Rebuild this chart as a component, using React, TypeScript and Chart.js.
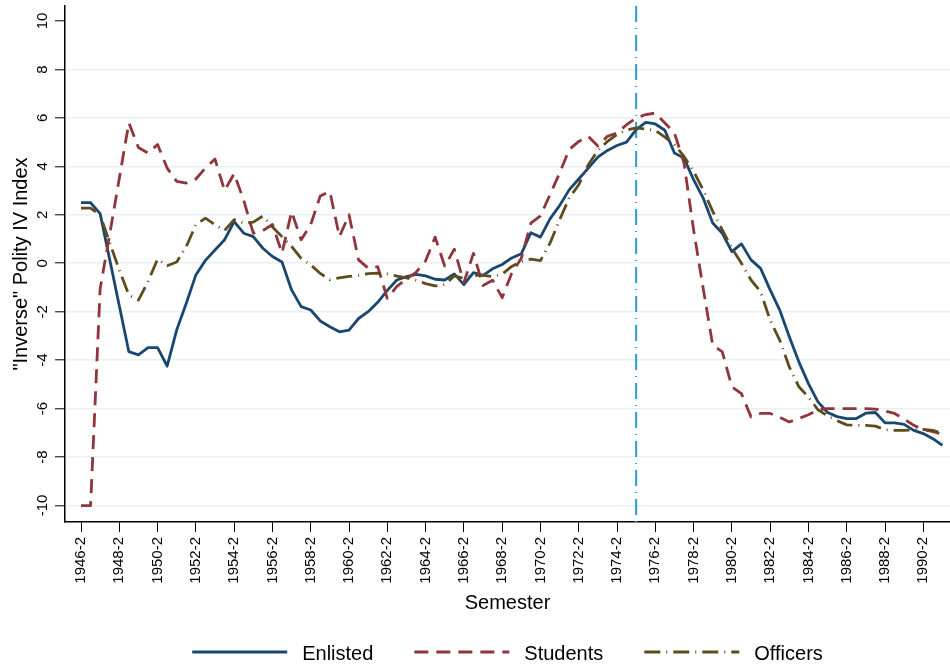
import React, { useEffect, useRef } from "react";
import { Chart, registerables } from "chart.js";

Chart.register(...registerables);

const FONT = '"Liberation Sans", Arial, Helvetica, sans-serif';

// Semesters 1946-2 ... 1991-2
const semesters: string[] = [];
for (let year = 1946; year <= 1991; year++) {
  if (year > 1946) semesters.push(`${year}-1`);
  semesters.push(`${year}-2`);
}

// Every fourth semester gets a tick label
const xTickIndices: number[] = semesters.map((_, i) => i).filter((i) => i % 4 === 0);
const yTicks: number[] = [-10, -8, -6, -4, -2, 0, 2, 4, 6, 8, 10];

// Semester marked by the vertical reference line
const eventSemester = "1975-2";

const enlisted: number[] = [
  2.5, 2.5, 2.05, 0.15, -1.75, -3.65, -3.78, -3.48, -3.48, -4.25,
  -2.75, -1.65, -0.48, 0.12, 0.55, 0.97, 1.72, 1.24, 1.1, 0.62,
  0.28, 0.05, -1.1, -1.79, -1.93, -2.38, -2.62, -2.83, -2.76, -2.28,
  -2.0, -1.61, -1.12, -0.69, -0.55, -0.46, -0.52, -0.66, -0.69, -0.44,
  -0.88, -0.39, -0.5, -0.23, -0.05, 0.22, 0.39, 1.26, 1.08, 1.83,
  2.38, 3.03, 3.48, 3.93, 4.38, 4.66, 4.86, 5.0, 5.52, 5.82,
  5.75, 5.49, 4.55, 4.34, 3.45, 2.69, 1.66, 1.24, 0.48, 0.8,
  0.14, -0.21, -1.1, -1.93, -3.03, -4.07, -4.97, -5.72, -6.16, -6.33,
  -6.41, -6.41, -6.19, -6.16, -6.59, -6.59, -6.65, -6.9, -7.03, -7.24,
  -7.52,
];

const students: number[] = [
  -10, -10, -1.05, 1.2, 3.5, 5.8, 4.78, 4.55, 4.9, 3.93,
  3.38, 3.31, 3.48, 3.93, 4.3, 3.0, 3.7, 2.6, 1.24, 1.35,
  1.6, 0.42, 2.13, 0.97, 1.6, 2.78, 2.96, 1.1, 2.0, 0.14,
  -0.2, -0.14, -1.45, -0.95, -0.65, -0.38, 0.1, 1.08, -0.12, 0.58,
  -0.8, 0.41, -0.92, -0.7, -1.42, -0.41, 0.21, 1.66, 1.96, 2.83,
  3.72, 4.69, 5.03, 5.24, 4.84, 5.24, 5.38, 5.72, 6.0, 6.14,
  6.2, 5.79, 5.38, 4.14, 1.38, -1.03, -3.38, -3.66, -5.1, -5.38,
  -6.34, -6.2, -6.2, -6.36, -6.55, -6.41, -6.25, -6.05, -6.0, -6.0,
  -6.0, -6.0, -6.0, -6.02, -6.1, -6.2, -6.43, -6.69, -6.87, -6.95,
  -7.06,
];

const officers: number[] = [
  2.28, 2.28, 2.0, 0.85, -0.28, -1.31, -1.52, -0.76, 0.17, -0.1,
  0.05, 0.69, 1.59, 1.86, 1.59, 1.35, 1.8, 1.66, 1.7, 1.95,
  1.5, 1.1, 0.7, 0.2, -0.07, -0.42, -0.68, -0.6, -0.54, -0.5,
  -0.43, -0.41, -0.44, -0.53, -0.6, -0.7, -0.84, -0.93, -0.88, -0.52,
  -0.62, -0.5, -0.5, -0.55, -0.45, -0.13, 0.07, 0.17, 0.11, 0.83,
  1.79, 2.69, 3.24, 4.07, 4.65, 5.03, 5.31, 5.5, 5.59, 5.54,
  5.49, 5.21, 4.9, 4.41, 3.79, 3.03, 2.14, 1.38, 0.62, 0.0,
  -0.69, -1.17, -2.35, -3.17, -4.28, -5.1, -5.52, -6.05, -6.3, -6.5,
  -6.67, -6.69, -6.69, -6.72, -6.87, -6.9, -6.9, -6.88, -6.86, -6.9,
  -7.02,
];

const seriesLabels = ["Enlisted", "Students", "Officers"];
const seriesValues = [enlisted, students, officers];
const seriesColors = ["#1a476f", "#90353b", "#5e4c1c"];
const seriesDashes: number[][] = [[], [14, 8], [16, 6, 1, 6]];

const refLineColor = "#2b9bd0";

const overlayPlugin = {
  id: "overlay",
  beforeDatasetsDraw(chart: any) {
    const { ctx, chartArea, scales } = chart;
    const x = scales.x.getPixelForValue(semesters.indexOf(eventSemester));
    ctx.save();
    ctx.strokeStyle = refLineColor;
    ctx.lineWidth = 2;
    ctx.setLineDash([16, 6, 1, 6]);
    ctx.beginPath();
    ctx.moveTo(x, chartArea.top);
    ctx.lineTo(x, chartArea.bottom);
    ctx.stroke();
    ctx.restore();
  },
  afterDraw(chart: any) {
    const { ctx, chartArea, scales } = chart;
    ctx.save();
    ctx.fillStyle = "#000";

    // y tick labels, rotated
    ctx.font = `15px ${FONT}`;
    ctx.textAlign = "center";
    ctx.textBaseline = "alphabetic";
    yTicks.forEach((v) => {
      const py = scales.y.getPixelForValue(v);
      ctx.save();
      ctx.translate(47, py);
      ctx.rotate(-Math.PI / 2);
      ctx.fillText(String(v), 0, 0);
      ctx.restore();
    });

    // y axis title
    ctx.font = `20px ${FONT}`;
    ctx.save();
    ctx.translate(27, (chartArea.top + chartArea.bottom) / 2);
    ctx.rotate(-Math.PI / 2);
    ctx.fillText('"Inverse" Polity IV Index', 0, 0);
    ctx.restore();

    // legend row
    const lineLen = 95;
    const textGap = 15;
    const itemGap = 41;
    const ly = 652;
    const datasets = chart.data.datasets;
    const widths = datasets.map((d: any) => ctx.measureText(d.label).width);
    const total =
      widths.reduce((s: number, w: number) => s + lineLen + textGap + w, 0) +
      itemGap * (datasets.length - 1);
    let x = (chartArea.left + chartArea.right) / 2 - total / 2;
    ctx.textAlign = "left";
    datasets.forEach((d: any, i: number) => {
      ctx.save();
      ctx.strokeStyle = d.borderColor;
      ctx.lineWidth = d.borderWidth;
      ctx.setLineDash(d.borderDash || []);
      ctx.beginPath();
      ctx.moveTo(x, ly);
      ctx.lineTo(x + lineLen, ly);
      ctx.stroke();
      ctx.restore();
      ctx.fillText(d.label, x + lineLen + textGap, ly + 7.5);
      x += lineLen + textGap + widths[i] + itemGap;
    });
    ctx.restore();
  },
};

export default function App() {
  const canvasRef = useRef<HTMLCanvasElement | null>(null);

  useEffect(() => {
    const canvas = canvasRef.current;
    if (!canvas) return;

    const datasets = seriesLabels.map((label, s) => ({
      label,
      data: seriesValues[s].map((v, i) => ({ x: i, y: v })),
      borderColor: seriesColors[s],
      backgroundColor: seriesColors[s],
      borderWidth: 2.8,
      borderDash: seriesDashes[s],
      borderJoinStyle: "round" as const,
      pointRadius: 0,
      tension: 0,
      fill: false,
      order: seriesLabels.length - s,
    }));

    const chart = new Chart(canvas, {
      type: "line",
      data: { datasets },
      plugins: [overlayPlugin],
      options: {
        responsive: false,
        animation: false,
        events: [],
        layout: { padding: { top: 6, right: 0, bottom: 49, left: 0 } },
        plugins: {
          legend: { display: false },
          tooltip: { enabled: false },
        },
        scales: {
          x: {
            type: "linear",
            min: -1.672,
            max: 90.79,
            afterBuildTicks: (scale: any) => {
              scale.ticks = xTickIndices.map((v) => ({ value: v }));
            },
            afterFit: (scale: any) => {
              scale.height = 97;
            },
            grid: {
              drawOnChartArea: false,
              drawTicks: true,
              tickLength: 10,
              tickColor: "#000",
              tickWidth: 1,
            },
            border: { display: true, color: "#000", width: 1.5 },
            ticks: {
              autoSkip: false,
              minRotation: 90,
              maxRotation: 90,
              padding: 5,
              color: "#000",
              font: { family: FONT, size: 15 },
              callback: (v: any) => semesters[v as number],
            },
            title: {
              display: true,
              text: "Semester",
              color: "#000",
              font: { family: FONT, size: 20 },
              padding: { top: 0, bottom: 4 },
            },
          },
          y: {
            type: "linear",
            min: -10.68,
            max: 10.62,
            afterBuildTicks: (scale: any) => {
              scale.ticks = yTicks.map((v) => ({ value: v }));
            },
            afterFit: (scale: any) => {
              scale.width = 65;
            },
            grid: {
              color: (c: any) =>
                c.tick && c.tick.value === 10 ? "rgba(0,0,0,0)" : "#e8f0f2",
              lineWidth: 1.6,
              drawTicks: true,
              tickLength: 10,
              tickColor: "#000",
              tickWidth: 1,
            },
            border: { display: true, color: "#000", width: 1.5 },
            ticks: { display: false },
          },
        },
      },
    });

    return () => chart.destroy();
  }, []);

  return (
    <div style={{ position: "fixed", left: 0, top: 0, width: 950, height: 668, background: "#fff" }}>
      <canvas ref={canvasRef} width={950} height={668} style={{ display: "block" }} />
    </div>
  );
}
